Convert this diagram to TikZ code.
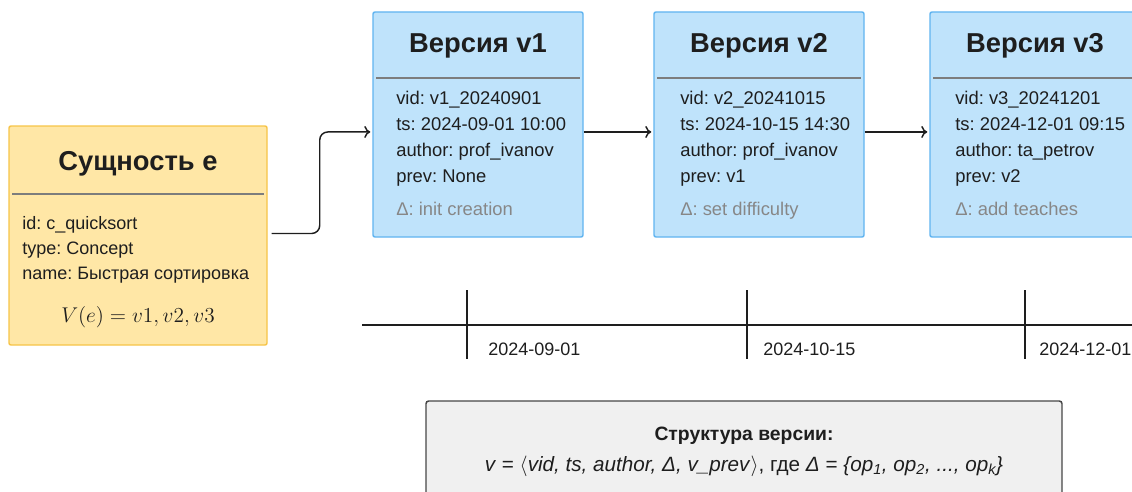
\documentclass[tikz,border=0pt]{standalone}
\usepackage{fix-cm}
\usepackage{fontspec}
\setmainfont{Liberation Sans}
\usetikzlibrary{arrows.meta}
\frenchspacing

\definecolor{entfill}{RGB}{255,231,166}
\definecolor{entdraw}{RGB}{246,196,72}
\definecolor{verfill}{RGB}{191,227,251}
\definecolor{verdraw}{RGB}{96,180,240}
\definecolor{sepgray}{RGB}{125,125,125}
\definecolor{deltagray}{RGB}{135,135,135}
\definecolor{structfill}{RGB}{240,240,240}
\definecolor{structdraw}{RGB}{70,70,70}
\definecolor{ink}{RGB}{30,30,30}

\tikzset{
  entbox/.style={draw=entdraw, fill=entfill, line width=1.1pt, rounded corners=1.5pt,
    minimum width=193.5pt, minimum height=164.25pt},
  verbox/.style={draw=verdraw, fill=verfill, line width=1.1pt, rounded corners=1.5pt,
    minimum width=157.5pt, minimum height=168.75pt},
  structbox/.style={draw=structdraw, fill=structfill, line width=1.1pt, rounded corners=2pt,
    minimum width=477pt, minimum height=82.5pt},
  titletext/.style={inner sep=0pt, text=ink, font=\fontsize{20.5}{24}\selectfont\bfseries},
  bodytext/.style={inner sep=0pt, text=ink, align=left, anchor=west, font=\fontsize{13.8}{19.5}\selectfont},
  deltatext/.style={inner sep=0pt, text=deltagray, anchor=base west, font=\fontsize{13.8}{16}\selectfont},
  datetext/.style={inner sep=0pt, text=ink, anchor=base west, font=\fontsize{13.5}{16}\selectfont},
  sepline/.style={draw=sepgray, line width=1.2pt},
  conn/.style={draw=ink, line width=1.1pt, -{To[length=4.5pt,width=9pt]}, shorten >=1.5pt},
  axis/.style={draw=ink, line width=1.1pt}
}

\begin{document}
\begin{tikzpicture}[x=0.75pt,y=0.75pt,yscale=-1,xscale=1]
\useasboundingbox (0,0) rectangle (1132,492);

% Entity
\node (ent) [entbox] at (138,235.5) {};
\node (enttitle) [titletext] at (138,164) {Сущность e};
\draw[sepline] (12,194) -- (264,194);
\node (entbody) [bodytext, font=\fontsize{13.5}{18.75}\selectfont] at (22,250) {id: c\_quicksort\\type: Concept\\name: Быстрая сортировка};
\node (entset) [inner sep=0pt, text=ink, font=\fontsize{16}{19}\selectfont] at (138,317) {$V(e) = v1, v2, v3$};

% Version v1
\node (v1) [verbox] at (478,124.5) {};
\node (v1title) [titletext] at (478,46) {Версия v1};
\draw[sepline] (376,78) -- (580,78);
\node (v1body) [bodytext] at (396,139) {vid: v1\_20240901\\ts: 2024-09-01 10:00\\author: prof\_ivanov\\prev: None};
\node (v1delta) [deltatext] at (396,215) {Δ: init creation};

% Version v2
\node (v2) [verbox] at (759,124.5) {};
\node (v2title) [titletext] at (759,46) {Версия v2};
\draw[sepline] (657,78) -- (861,78);
\node (v2body) [bodytext] at (680,139) {vid: v2\_20241015\\ts: 2024-10-15 14:30\\author: prof\_ivanov\\prev: v1};
\node (v2delta) [deltatext] at (680,215) {Δ: set difficulty};

% Version v3
\node (v3) [verbox] at (1035,124.5) {};
\node (v3title) [titletext] at (1035,46) {Версия v3};
\draw[sepline] (933,78) -- (1137,78);
\node (v3body) [bodytext] at (955,139) {vid: v3\_20241201\\ts: 2024-12-01 09:15\\author: ta\_petrov\\prev: v2};
\node (v3delta) [deltatext] at (955,215) {Δ: add teaches};

% Links
\draw[conn, rounded corners=6pt] ([xshift=3pt,yshift=-1.5pt]ent.east) -- ++(48,0) |- ([yshift=5.6pt]v1.west);
\draw[conn] ([yshift=5.6pt]v1.east) -- ([yshift=5.6pt]v2.west);
\draw[conn] ([yshift=5.6pt]v2.east) -- ([yshift=5.6pt]v3.west);

% Timeline
\draw[axis] (362,325) -- (1132,325);
\draw[axis] (467,290) -- (467,359);
\draw[axis] (747,290) -- (747,359);
\draw[axis] (1025,290) -- (1025,359);
\node (date1) [datetext] at (488,355) {2024-09-01};
\node (date2) [datetext] at (763,355) {2024-10-15};
\node (date3) [datetext] at (1039,355) {2024-12-01};

% Structure
\node (struct) [structbox] at (744,456) {};
\node (structtitle) [inner sep=0pt, text=ink, font=\fontsize{14.5}{17}\selectfont\bfseries] at (744,436) {Структура версии:};
\node (structdef) [inner sep=0pt, text=ink, font=\fontsize{15.5}{18}\selectfont] at (744,466)
  {\textit{v} = $\langle$\textit{vid, ts, author, Δ, v\_prev}$\rangle$, где \textit{Δ} = \textit{\{op\textsubscript{1}, op\textsubscript{2}, ..., op\textsubscript{k}\}}};

\end{tikzpicture}
\end{document}
